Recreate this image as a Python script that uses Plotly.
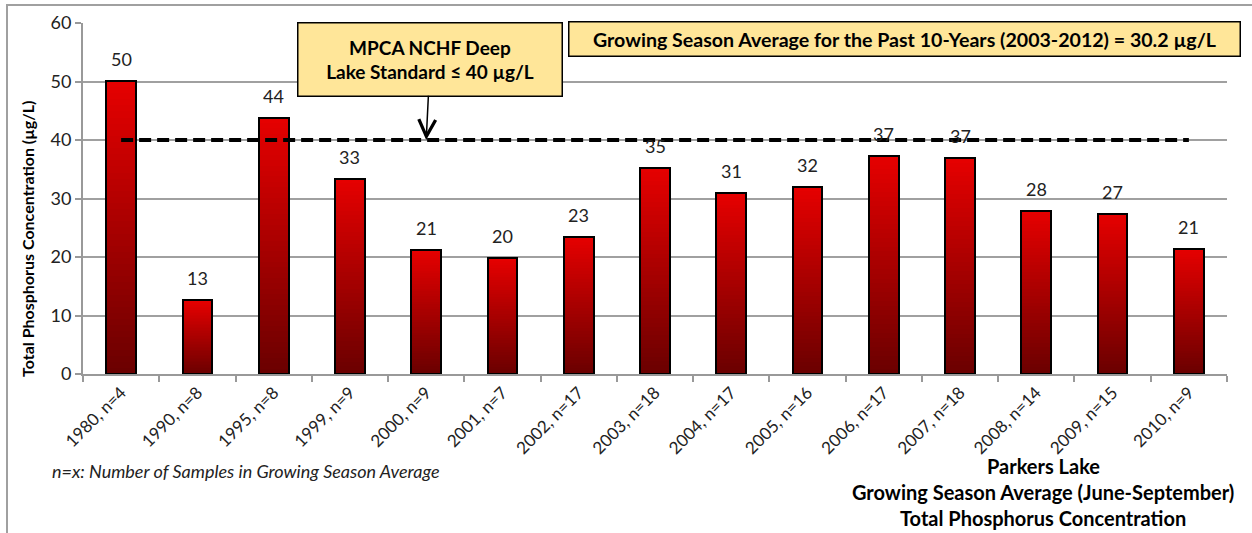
import plotly.graph_objects as go

categories = ["1980, n=4", "1990, n=8", "1995, n=8", "1999, n=9", "2000, n=9",
              "2001, n=7", "2002, n=17", "2003, n=18", "2004, n=17", "2005, n=16",
              "2006, n=17", "2007, n=18", "2008, n=14", "2009, n=15", "2010, n=9"]
tp_values = [50.1, 12.6, 43.8, 33.4, 21.2, 19.8, 23.5, 35.2, 30.9, 32.0, 37.3, 36.9, 27.9, 27.4, 21.4]
tp_labels = ["50", "13", "44", "33", "21", "20", "23", "35", "31", "32", "37", "37", "28", "27", "21"]
standard_value = 40
standard_series = [standard_value] * len(categories)
y_ticks = [0, 10, 20, 30, 40, 50, 60]

FONT = "Lato"
N_SEG = 48
dark = (0x6A, 0x00, 0x00)
bright = (0xE6, 0x00, 0x00)

fig = go.Figure()

# gradient bars built from stacked slices of each value
for k in range(N_SEG):
    t = (k + 0.5) / N_SEG
    c = tuple(round(dark[i] + (bright[i] - dark[i]) * t) for i in range(3))
    fig.add_trace(go.Bar(
        x=categories, y=[v / N_SEG for v in tp_values],
        marker=dict(color="rgb(%d,%d,%d)" % c, line=dict(width=0)),
        showlegend=False, hoverinfo="skip"))

# outline of each bar
fig.add_trace(go.Bar(
    x=categories, y=tp_values, xaxis="x2",
    marker=dict(color="rgba(0,0,0,0)", line=dict(color="black", width=2)),
    showlegend=False))

# standard line
fig.add_trace(go.Scatter(
    x=categories, y=standard_series, mode="lines",
    line=dict(color="black", width=4, dash="12px,6px"),
    showlegend=False, hoverinfo="skip"))

annotations = []
for c, v, lab in zip(categories, tp_values, tp_labels):
    annotations.append(dict(x=c, y=v, text=lab, showarrow=False, yanchor="bottom",
                            yshift=9, font=dict(family=FONT, size=18, color="#222")))

annotations += [
    dict(x=categories[4], y=standard_value, ax=4, ay=-81, axref="pixel", ayref="pixel",
         text="<b>MPCA NCHF Deep<br>Lake Standard ≤ 40 µg/L</b>",
         showarrow=True, arrowhead=5, arrowsize=2.2, arrowwidth=1.5, arrowcolor="black",
         bgcolor="#FFE699", bordercolor="black", borderwidth=1.5, borderpad=2,
         width=259, height=68, font=dict(family=FONT, size=19, color="black")),
    dict(xref="paper", yref="paper", x=(904 - 83) / 1144, y=(374 - 39) / 351,
         xanchor="center", yanchor="middle",
         text="<b>Growing Season Average for the Past 10-Years (2003-2012) = 30.2 µg/L</b>",
         showarrow=False, bgcolor="#FFE699", bordercolor="black", borderwidth=1.5,
         borderpad=1, width=668, height=31, font=dict(family=FONT, size=19.6, color="black")),
    dict(xref="paper", yref="paper", x=(27 - 83) / 1144, y=(374 - 239) / 351,
         xanchor="center", yanchor="middle",
         text="<b>Total Phosphorus Concentration (µg/L)</b>", textangle=-90,
         showarrow=False, font=dict(family=FONT, size=16, color="black")),
    dict(xref="paper", yref="paper", x=(50 - 83) / 1144, y=(374 - 471) / 351,
         xanchor="left", yanchor="middle",
         text="<i>n=x: Number of Samples in Growing Season Average</i>",
         showarrow=False, font=dict(family=FONT, size=18, color="#222")),
]
for txt, py in [("Parkers Lake", 466), ("Growing Season Average (June-September)", 492),
                ("Total Phosphorus Concentration", 518)]:
    annotations.append(dict(xref="paper", yref="paper", x=(1043 - 83) / 1144,
                            y=(374 - py) / 351, xanchor="center", yanchor="middle",
                            text="<b>%s</b>" % txt, showarrow=False,
                            font=dict(family=FONT, size=20, color="black")))

fig.update_layout(
    width=1252, height=533,
    margin=dict(l=83, r=25, t=23, b=159),
    paper_bgcolor="white", plot_bgcolor="white",
    barmode="stack", bargap=0.61,
    font=dict(family=FONT, color="#222"),
    xaxis=dict(type="category", categoryorder="array", categoryarray=categories,
               tickson="boundaries", ticks="outside", ticklen=6, tickcolor="#999",
               tickwidth=2, showline=True, linecolor="#999", linewidth=2,
               tickangle=-45, tickfont=dict(family=FONT, size=17, color="#222"),
               showgrid=False, range=[-0.5, 14.5], automargin=False),
    xaxis2=dict(type="category", categoryorder="array", categoryarray=categories,
                overlaying="x", visible=False, range=[-0.5, 14.5]),
    yaxis=dict(range=[0, 60], tickvals=y_ticks, ticks="outside", ticklen=6,
               tickcolor="#999", tickwidth=2, showline=True, linecolor="#999",
               linewidth=2, showgrid=True, gridcolor="#A0A0A0", gridwidth=1.5,
               zeroline=False, automargin=False,
               tickfont=dict(family=FONT, size=18, color="#222")),
    annotations=annotations,
    shapes=[dict(type="rect", xref="paper", yref="paper",
                 x0=(7 - 83) / 1144, x1=1.2, y0=-0.7, y1=(374 - 5) / 351,
                 line=dict(color="#A0A0A0", width=2), fillcolor="rgba(0,0,0,0)", layer="below")],
)

fig.write_html("out.html", config={"displayModeBar": False},
               post_script="document.body.style.margin='0';document.body.style.overflow='hidden';")
